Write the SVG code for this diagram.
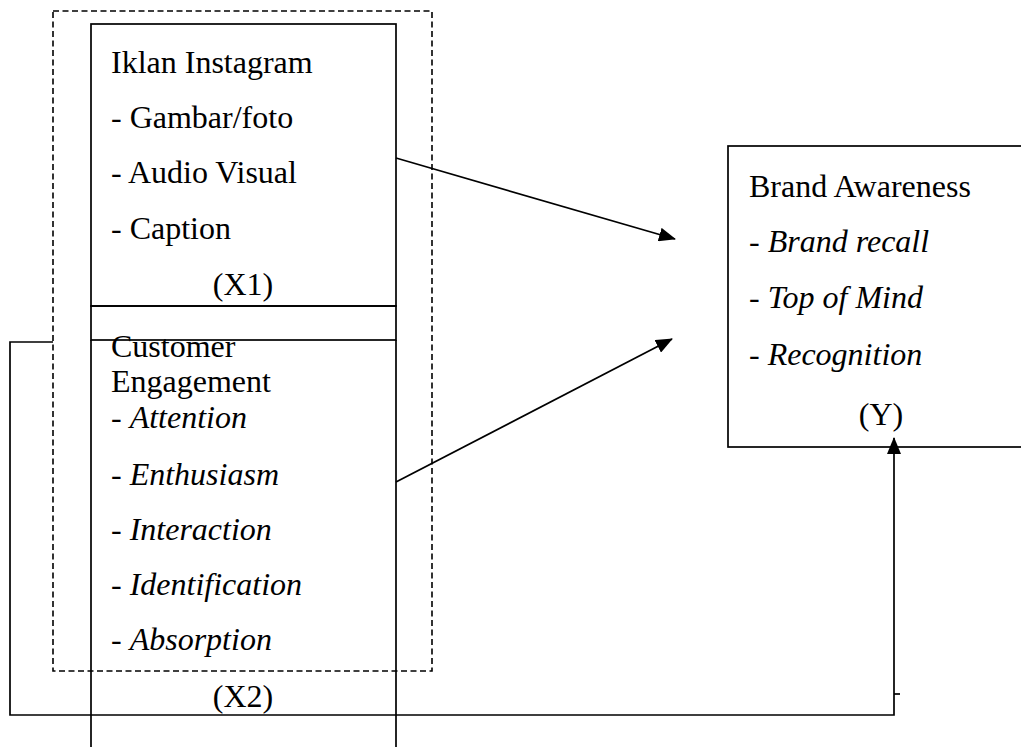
<svg xmlns="http://www.w3.org/2000/svg" width="1021" height="747" viewBox="0 0 1021 747">
<style>
.box{fill:none;stroke:#000;stroke-width:1.7}
.dash{fill:none;stroke:#000;stroke-width:1.6;stroke-dasharray:6 3.5}
.ln{fill:none;stroke:#000;stroke-width:1.7}
text{font-family:"Liberation Serif","Times New Roman",serif;font-size:32px;fill:#000}
.it{font-style:italic}
</style>
<defs>
<marker id="ah" markerUnits="userSpaceOnUse" markerWidth="18" markerHeight="14" refX="16" refY="7" orient="auto">
<path d="M0,0 L17,7 L0,14 z" fill="#000"/>
</marker>
</defs>
<rect width="1021" height="747" fill="#fff"/>
<g id="group-x">
<rect class="dash" x="53" y="11" width="379" height="660"/>
</g>
<g id="node-x1">
<rect class="box" x="91" y="24" width="305" height="282"/>
<text x="111" y="73">Iklan Instagram</text>
<text x="111" y="128">- Gambar/foto</text>
<text x="111" y="183">- Audio Visual</text>
<text x="111" y="239">- Caption</text>
<text x="243" y="295" text-anchor="middle">(X1)</text>
</g>
<g id="node-x2">
<rect class="box" x="91" y="306" width="305" height="34"/>
<path class="box" d="M91,340 V747 M396,340 V747"/>
<text x="111" y="357">Customer</text>
<text x="111" y="392">Engagement</text>
<text x="111" y="428">- <tspan class="it">Attention</tspan></text>
<text x="111" y="485">- <tspan class="it">Enthusiasm</tspan></text>
<text x="111" y="540">- <tspan class="it">Interaction</tspan></text>
<text x="111" y="595">- <tspan class="it">Identification</tspan></text>
<text x="111" y="650">- <tspan class="it">Absorption</tspan></text>
<text x="243" y="707" text-anchor="middle">(X2)</text>
</g>
<g id="node-y">
<rect class="box" x="728" y="146" width="300" height="301"/>
<text x="749" y="197">Brand Awareness</text>
<text x="749" y="252">- <tspan class="it">Brand recall</tspan></text>
<text x="749" y="308">- <tspan class="it">Top of Mind</tspan></text>
<text x="749" y="365">- <tspan class="it">Recognition</tspan></text>
<text x="881" y="425" text-anchor="middle">(Y)</text>
</g>
<g id="connectors">
<line class="ln" x1="396" y1="158" x2="675" y2="239" marker-end="url(#ah)"/>
<line class="ln" x1="396" y1="482" x2="672" y2="339" marker-end="url(#ah)"/>
<path class="ln" d="M53,342 H10 V715 H894 V438" marker-end="url(#ah)"/>
<line class="ln" x1="894" y1="694" x2="900" y2="694"/>
</g>
</svg>
